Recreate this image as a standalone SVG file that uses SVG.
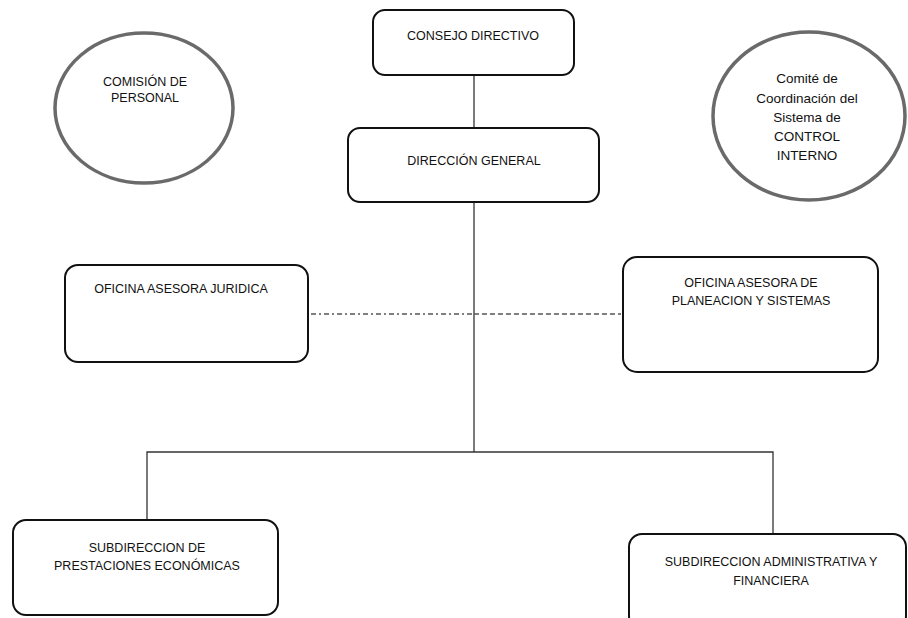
<svg xmlns="http://www.w3.org/2000/svg" width="908" height="618" viewBox="0 0 908 618">
<style>
  .box { fill: #ffffff; stroke: #111111; stroke-width: 2; }
  .oval { fill: #ffffff; stroke: #6a6a6a; stroke-width: 3.5; }
  .t { font-family: "Liberation Sans", Arial, sans-serif; font-size: 12.5px; fill: #111111; text-anchor: middle; }
  .t2 { font-family: "Liberation Sans", Arial, sans-serif; font-size: 13.5px; fill: #111111; text-anchor: middle; }
  .line { fill: none; stroke: #333333; stroke-width: 1.3; }
  .dashdot { fill: none; stroke: #555555; stroke-width: 1.3; stroke-dasharray: 5,3,2,3; }
  .dash { fill: none; stroke: #555555; stroke-width: 1.3; stroke-dasharray: 5,3; }
</style>
<rect width="908" height="618" fill="#ffffff"/>
<g id="connectors">
  <line class="line" x1="474" y1="75" x2="474" y2="128"/>
  <line class="line" x1="474" y1="202" x2="474" y2="452"/>
  <polyline class="line" points="147,520 147,452 773,452 773,534"/>
  <line class="dashdot" x1="311" y1="314" x2="474" y2="314"/>
  <line class="dash" x1="474" y1="314" x2="621" y2="314"/>
</g>
<g id="consejo-directivo">
  <rect class="box" x="373" y="10" width="201" height="65" rx="12"/>
  <text class="t" x="473" y="39.5">CONSEJO DIRECTIVO</text>
</g>
<g id="direccion-general">
  <rect class="box" x="348" y="128" width="251" height="74" rx="12"/>
  <text class="t" x="474" y="165">DIRECCIÓN GENERAL</text>
</g>
<g id="comision-personal">
  <ellipse class="oval" cx="144" cy="108" rx="89" ry="75"/>
  <text class="t" x="145" y="86">COMISIÓN DE</text>
  <text class="t" x="145" y="102">PERSONAL</text>
</g>
<g id="comite-control-interno">
  <ellipse class="oval" cx="809" cy="116" rx="96" ry="84"/>
  <text class="t2" x="807" y="83">Comité de</text>
  <text class="t2" x="807" y="103">Coordinación del</text>
  <text class="t2" x="807" y="122">Sistema de</text>
  <text class="t2" x="807" y="141">CONTROL</text>
  <text class="t2" x="807" y="160">INTERNO</text>
</g>
<g id="oficina-juridica">
  <rect class="box" x="65" y="265" width="243" height="97" rx="13"/>
  <text class="t" x="181" y="293">OFICINA ASESORA JURIDICA</text>
</g>
<g id="oficina-planeacion">
  <rect class="box" x="623" y="257" width="255" height="115" rx="14"/>
  <text class="t" x="751" y="287">OFICINA ASESORA DE</text>
  <text class="t" x="751" y="305">PLANEACION Y SISTEMAS</text>
</g>
<g id="subdireccion-prestaciones">
  <rect class="box" x="13" y="520" width="265" height="95" rx="13"/>
  <text class="t" x="147" y="552">SUBDIRECCION DE</text>
  <text class="t" x="147" y="570">PRESTACIONES ECONÓMICAS</text>
</g>
<g id="subdireccion-administrativa">
  <rect class="box" x="629" y="534" width="277" height="95" rx="13"/>
  <text class="t" x="771" y="566">SUBDIRECCION ADMINISTRATIVA Y</text>
  <text class="t" x="771" y="585">FINANCIERA</text>
</g>
</svg>
